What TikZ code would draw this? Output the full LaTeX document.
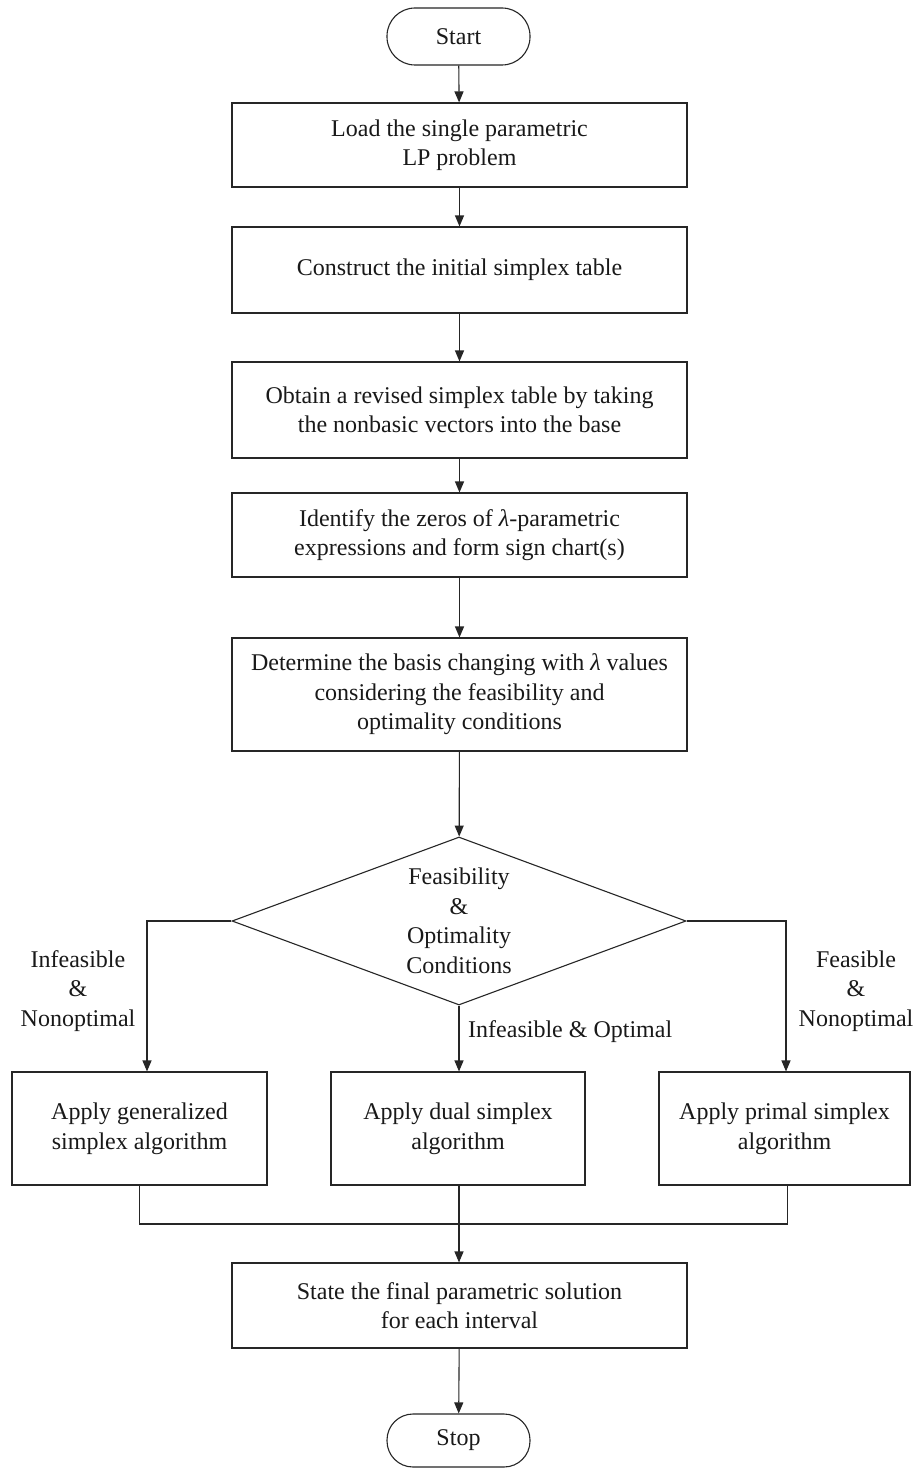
\documentclass[tikz,border=0pt]{standalone}
\usepackage{fontspec}
\setmainfont{Liberation Serif}
\usetikzlibrary{arrows.meta,shapes.geometric}
\begin{document}
\begin{tikzpicture}[x=1pt,y=-1pt,
  txt/.style={font=\fontsize{24}{29.5}\selectfont, align=center, text=black!90},
  proc/.style={txt, draw=black!85, line width=1.1pt, rectangle, inner sep=0pt},
  term/.style={txt, draw=black!85, line width=1.1pt, rectangle, inner sep=0pt},
  decision/.style={txt, draw=black!85, line width=1.1pt, diamond, inner sep=0pt, shape aspect=2.7},
  arr/.style={-{Triangle[length=11pt,width=9pt]}, line width=1.1pt, draw=black!85},
  ln/.style={line width=1.1pt, draw=black!85}]
\useasboundingbox[fill=white] (0,0) rectangle (914,1469);

\node[term, rounded corners=28pt, minimum width=143pt, minimum height=57pt] (start) at (458.5,36.5) {Start};
\node[proc, minimum width=455pt, minimum height=84pt] (load) at (459.5,145) {Load the single parametric\\LP problem};
\node[proc, minimum width=455pt, minimum height=86pt] (cons) at (459.5,270) {Construct the initial simplex table};
\node[proc, minimum width=455pt, minimum height=96pt] (obt) at (459.5,410) {Obtain a revised simplex table by taking\\the nonbasic vectors into the base};
\node[proc, minimum width=455pt, minimum height=84pt] (ident) at (459.5,535) {Identify the zeros of {\itshape λ}-parametric\\expressions and form sign chart(s)};
\node[proc, minimum width=455pt, minimum height=113pt] (det) at (459.5,694.5) {Determine the basis changing with {\itshape λ} values\\considering the feasibility and\\optimality conditions};
\node[decision, minimum width=454pt, minimum height=168pt] (dec) at (459,921) {Feasibility\\\&\\Optimality\\Conditions};

\node[proc, minimum width=255pt, minimum height=113pt] (lbox) at (139.5,1128.5) {Apply generalized\\simplex algorithm};
\node[proc, minimum width=254pt, minimum height=113pt] (mbox) at (458,1128.5) {Apply dual simplex\\algorithm};
\node[proc, minimum width=251pt, minimum height=113pt] (rbox) at (784.5,1128.5) {Apply primal simplex\\algorithm};

\node[proc, minimum width=455pt, minimum height=85pt] (final) at (459.5,1305.5) {State the final parametric solution\\for each interval};
\node[term, rounded corners=26pt, minimum width=143pt, minimum height=53pt] (stop) at (458.5,1440.5) {Stop};

\node[txt] (lblL) at (78,991) {Infeasible\\\&\\Nonoptimal};
\node[txt] (lblR) at (856,991) {Feasible\\\&\\Nonoptimal};
\node[txt, anchor=west, inner sep=0pt] (lblM) at (468,1032) {Infeasible \& Optimal};

\draw[arr] (start) -- (load);
\draw[arr] (load) -- (cons);
\draw[arr] (cons) -- (obt);
\draw[arr] (obt) -- (ident);
\draw[arr] (ident) -- (det);
\draw[arr] (det) -- (dec);

\draw[arr] (dec.west) -| ([xshift=7.5pt]lbox.north);
\draw[arr] (dec.east) -| ([xshift=1.5pt]rbox.north);
\draw[arr] (dec.south) -- (dec.south |- mbox.north);

\coordinate (merge) at (459,1224);
\draw[ln] (lbox.south) |- (merge);
\draw[ln] ([xshift=3pt]rbox.south) |- (merge);
\draw[ln] (mbox.south -| merge) -- (merge);
\draw[arr] (merge) -- (merge |- final.north);
\draw[arr] (final) -- (stop);
\end{tikzpicture}
\end{document}
